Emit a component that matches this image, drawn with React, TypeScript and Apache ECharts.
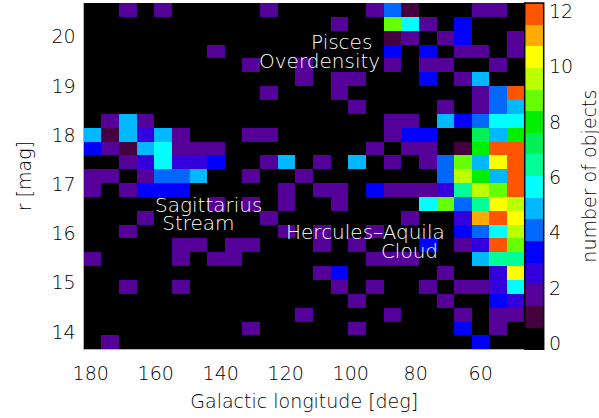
import React, { useEffect, useRef } from "react";
import * as echarts from "echarts";

// Binning of the density map (edges of the 25 x 25 grid)
const lonEdgeMax = 182.15;
const lonEdgeMin = 46.45;
const magEdgeMin = 13.64;
const magEdgeMax = 20.68;

const lonTicks = [180, 160, 140, 120, 100, 80, 60];
const magTicks = [14, 15, 16, 17, 18, 19, 20];
const cbTicks = [0, 2, 4, 6, 8, 10, 12];
const cbMinorTicks = [0, 1, 2, 3, 4, 5, 6, 7, 8, 9, 10, 11, 12];
const cbMin = -0.22;
const cbMax = 12.28;

// colour table (16 levels, bottom to top)
const cbColors = [
  "#000000", "#45003f", "#550099", "#3300dd", "#0000ff", "#0068ff",
  "#00b8ff", "#00ffff", "#00ff99", "#00f055", "#00ee00", "#66ff00",
  "#bbff00", "#ffff00", "#ffaa00", "#ff5500",
];

// number of objects per cell; rows from r = 20.7 (top) down to r = 13.6,
// columns from l = 182 (left) to l = 46 (right)
const counts: number[][] = [
  [0, 0, 2, 0, 2, 0, 0, 0, 0, 0, 2, 0, 0, 0, 0, 0, 2, 4, 1, 0, 0, 0, 2, 2, 0],
  [0, 0, 0, 0, 0, 0, 0, 0, 0, 0, 0, 0, 0, 0, 2, 0, 0, 9, 5.7, 2, 0, 3, 0, 0, 0],
  [0, 0, 0, 0, 0, 0, 0, 0, 0, 0, 0, 0, 0, 0, 0, 0, 0, 1, 2, 0, 2, 3, 0, 0, 2],
  [0, 0, 0, 0, 0, 0, 0, 2, 0, 0, 0, 0, 0, 0, 0, 0, 0, 3, 0, 3, 0, 2, 2, 0, 2],
  [0, 0, 0, 0, 0, 0, 0, 0, 0, 2, 0, 0, 2, 0, 0, 0, 0, 2, 0, 2, 2, 0, 0, 2, 0],
  [0, 0, 0, 0, 0, 0, 0, 0, 0, 0, 0, 0, 2, 0, 2, 2, 0, 0, 0, 3, 0, 2, 5, 0, 0],
  [0, 0, 0, 0, 0, 0, 0, 0, 0, 0, 2, 0, 0, 0, 2, 0, 0, 0, 0, 0, 0, 0, 2, 4, 12],
  [0, 0, 0, 0, 0, 0, 0, 0, 0, 0, 0, 0, 0, 0, 0, 2, 0, 0, 0, 0, 2, 0, 2, 4, 5],
  [0, 2, 5, 2, 0, 0, 0, 0, 0, 0, 0, 0, 0, 0, 0, 0, 0, 2, 2, 0, 5, 3, 4, 5.7, 5.7],
  [5, 1, 5, 2.5, 5, 2, 0, 0, 0, 2, 2, 0, 0, 0, 0, 0, 0, 2, 3, 3, 0, 0, 7, 5, 8],
  [3, 2, 1, 5, 5.7, 2, 2, 2, 0, 0, 0, 0, 0, 0, 0, 0, 2, 0, 2, 2, 0, 1, 8, 12, 12],
  [0, 0, 2, 2.5, 5.7, 2.5, 2.5, 3, 0, 0, 2, 5, 0, 2, 0, 5, 0, 2, 0, 2, 4, 9, 5, 10.3, 12],
  [2, 2, 0, 2, 4, 4, 5, 0, 0, 2, 0, 0, 2, 0, 0, 0, 0, 0, 0, 0, 4, 9.5, 8, 5, 12],
  [2, 0, 2, 3, 3, 3, 0, 0, 0, 0, 0, 2, 0, 2, 2, 0, 3, 2, 2, 2, 2.5, 6.4, 9.5, 9, 12],
  [0, 0, 0, 0, 0, 0, 0, 2, 0, 2, 0, 2, 0, 0, 2, 0, 0, 0, 0, 5.7, 9, 4, 6.4, 10.3, 9.5],
  [0, 0, 0, 2, 0, 0, 0, 0, 0, 0, 2, 0, 0, 0, 0, 0, 0, 0, 2, 0, 0, 2.5, 11, 12, 10.3],
  [0, 0, 2, 0, 0, 0, 0, 0, 0, 0, 0, 2, 0, 2, 0, 0, 2, 0, 0, 0, 0, 3, 4, 5.7, 9.5],
  [0, 0, 0, 0, 0, 2, 2, 0, 2, 2, 0, 0, 0, 2, 0, 2, 0, 0, 0, 3, 0, 2, 2.5, 12, 9],
  [2, 0, 0, 0, 0, 2, 0, 2, 2, 0, 0, 0, 0, 0, 0, 0, 2, 2, 2, 0, 0, 0, 5, 6.4, 6.4],
  [0, 0, 0, 0, 0, 0, 0, 0, 0, 0, 0, 0, 0, 2, 3, 0, 0, 0, 0, 0, 2, 0, 0, 2.5, 10.3],
  [0, 0, 2, 0, 0, 2, 0, 0, 0, 0, 0, 0, 0, 0, 2, 0, 2, 0, 0, 2, 0, 2, 2, 2.5, 5.7],
  [0, 0, 0, 0, 0, 0, 0, 0, 0, 0, 0, 0, 0, 0, 0, 2, 0, 0, 0, 0, 2, 0, 0, 3, 2.5],
  [0, 0, 0, 0, 0, 0, 0, 0, 0, 0, 0, 0, 2, 0, 0, 0, 0, 2, 0, 0, 0, 2, 0, 2, 2],
  [0, 0, 0, 0, 0, 0, 0, 0, 0, 2, 0, 0, 0, 0, 0, 2, 0, 0, 0, 0, 0, 3, 0, 2, 0],
  [0, 2, 0, 0, 0, 0, 0, 0, 0, 0, 0, 0, 0, 0, 0, 0, 0, 0, 0, 0, 0, 0, 3, 0, 0],
];

const annotations = [
  { text: "Pisces", lon: 112.2, mag: 19.89 },
  { text: "Overdensity", lon: 128.2, mag: 19.5 },
  { text: "Sagittarius", lon: 160.2, mag: 16.58 },
  { text: "Stream", lon: 158.0, mag: 16.2 },
  { text: "Hercules–Aquila", lon: 119.9, mag: 16.02 },
  { text: "Cloud", lon: 90.7, mag: 15.64 },
];

const FONT = "DejaVu Sans";

export default function App() {
  const ref = useRef<HTMLDivElement>(null);
  useEffect(() => {
    if (!ref.current) return;
    const chart = echarts.init(ref.current, undefined, { renderer: "svg" });
    const nRow = counts.length;
    const nCol = counts[0].length;
    const dLon = (lonEdgeMax - lonEdgeMin) / nCol;
    const dMag = (magEdgeMax - magEdgeMin) / nRow;
    const cells: number[][] = [];
    counts.forEach((row, r) => {
      row.forEach((v, c) => {
        cells.push([lonEdgeMax - (c + 0.5) * dLon, magEdgeMax - (r + 0.5) * dMag, v]);
      });
    });
    const bw = (cbMax - cbMin) / cbColors.length;
    const colorFor = (v: number) => {
      let k = Math.floor((v - cbMin) / bw);
      if (k < 0) k = 0;
      if (k > cbColors.length - 1) k = cbColors.length - 1;
      return cbColors[k];
    };
    const bands = cbColors.map((_, k) => [cbMin + k * bw, cbMin + (k + 1) * bw, k]);

    const gL = 83.7, gT = 3, gW = 441, gH = 346.25;
    const cbL = gL + gW, cbW = 19;

    const labelStyle = { fontFamily: FONT, fontSize: 19, fontWeight: 200, color: "#000000" };

    const option: any = {
      animation: false,
      backgroundColor: "#ffffff",
      grid: [
        { left: gL, top: gT, width: gW, height: gH, show: true, backgroundColor: "#000", borderWidth: 0 },
        { left: cbL, top: gT, width: cbW, height: gH, show: false },
      ],
      xAxis: [
        {
          gridIndex: 0, type: "value", min: lonEdgeMin, max: lonEdgeMax, inverse: true,
          splitLine: { show: false }, axisTick: { show: false },
          axisLine: { show: true, onZero: false, lineStyle: { color: "#b4b4b4", width: 1 } },
          axisLabel: { ...labelStyle, margin: 14, customValues: lonTicks },
          name: "Galactic longitude [deg]", nameLocation: "middle", nameGap: 42,
          nameTextStyle: { ...labelStyle },
        },
        { gridIndex: 1, type: "value", min: 0, max: 1, show: false },
      ],
      yAxis: [
        {
          gridIndex: 0, type: "value", min: magEdgeMin, max: magEdgeMax,
          splitLine: { show: false }, axisTick: { show: false },
          axisLine: { show: true, onZero: false, lineStyle: { color: "#b4b4b4", width: 1 } },
          axisLabel: { ...labelStyle, margin: 8, customValues: magTicks },
          name: "r [mag]", nameLocation: "middle", nameGap: 50, nameRotate: 90,
          nameTextStyle: { ...labelStyle },
        },
        {
          gridIndex: 1, type: "value", min: cbMin, max: cbMax, position: "right",
          splitLine: { show: false },
          axisLine: { show: true, lineStyle: { color: "#000", width: 1.5 } },
          axisTick: { show: true, inside: true, length: 4, customValues: cbMinorTicks, lineStyle: { color: "#000" } },
          axisLabel: { ...labelStyle, margin: 6, customValues: cbTicks },
          name: "number of objects", nameLocation: "middle", nameGap: 36, nameRotate: 90,
          nameTextStyle: { ...labelStyle },
        },
      ],
      series: [
        {
          type: "custom", xAxisIndex: 0, yAxisIndex: 0, data: cells, encode: { x: 0, y: 1 },
          renderItem: (_p: any, api: any) => {
            const lon = api.value(0), mag = api.value(1), v = api.value(2);
            const a = api.coord([lon + dLon / 2, mag + dMag / 2]);
            const b = api.coord([lon - dLon / 2, mag - dMag / 2]);
            const x0 = Math.round(Math.min(a[0], b[0])), x1 = Math.round(Math.max(a[0], b[0]));
            const y0 = Math.round(Math.min(a[1], b[1])), y1 = Math.round(Math.max(a[1], b[1]));
            return { type: "rect", shape: { x: x0, y: y0, width: x1 - x0, height: y1 - y0 }, style: { fill: colorFor(v) } };
          },
          z: 2,
        },
        {
          type: "custom", xAxisIndex: 1, yAxisIndex: 1, data: bands, encode: { y: 0 },
          renderItem: (_p: any, api: any) => {
            const lo = api.value(0), hi = api.value(1), k = api.value(2);
            const a = api.coord([0, hi]);
            const b = api.coord([1, lo]);
            const y0 = Math.round(a[1]), y1 = Math.round(b[1]);
            return { type: "rect", shape: { x: a[0], y: y0, width: b[0] - a[0], height: y1 - y0 }, style: { fill: cbColors[k] } };
          },
          z: 2,
        },
        {
          type: "custom", xAxisIndex: 0, yAxisIndex: 0, data: annotations.map((d) => [d.lon, d.mag]),
          encode: { x: 0, y: 1 }, z: 5,
          renderItem: (p: any, api: any) => {
            const pt = api.coord([api.value(0), api.value(1)]);
            return {
              type: "text", x: pt[0], y: pt[1],
              style: { text: annotations[p.dataIndex].text, fill: "#ffffff", fontFamily: FONT, fontWeight: 200, fontSize: 20, lineHeight: 17, align: "left", verticalAlign: "middle" },
            };
          },
        },
      ],
      graphic: [
        { type: "rect", z: 100, shape: { x: cbL, y: gT, width: cbW, height: gH }, style: { fill: "none", stroke: "#000", lineWidth: 1.5 } },
      ],
    };
    chart.setOption(option);
    return () => chart.dispose();
  }, []);
  return <div ref={ref} style={{ position: "fixed", left: 0, top: 0, width: 599, height: 418 }} />;
}
